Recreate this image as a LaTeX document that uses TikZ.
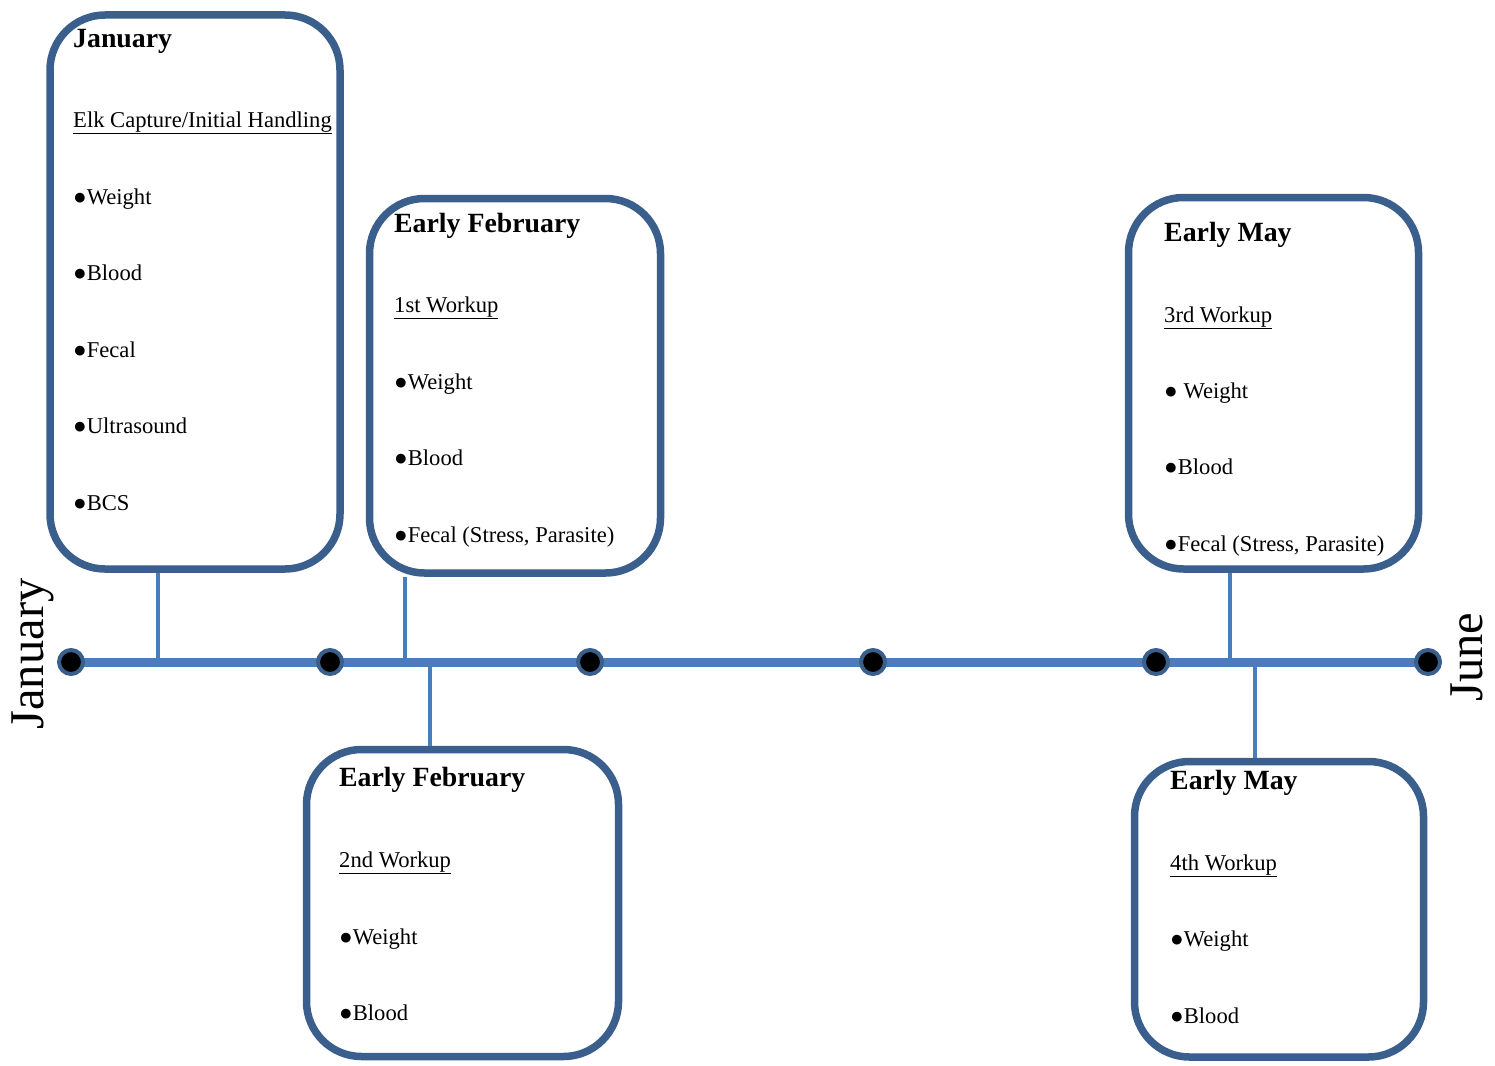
\documentclass[tikz,border=0pt]{standalone}
\usepackage{fontspec}
\setmainfont{Liberation Serif}
\definecolor{boxblue}{HTML}{3A5F8C}
\definecolor{lineblue}{HTML}{4A7EBB}
\begin{document}
\begin{tikzpicture}[x=1pt,y=-1pt,
  box/.style={draw=boxblue, line width=7.5pt, rounded corners=55pt, fill=white},
  txt/.style={anchor=base west, inner sep=0pt, font=\fontsize{22.6}{26}\selectfont},
  ttl/.style={anchor=base west, inner sep=0pt, font=\fontsize{27.8}{32}\selectfont\bfseries},
  month/.style={inner sep=0pt, rotate=90, font=\fontsize{48.5}{52}\selectfont},
  tl/.style={draw=lineblue, line width=9pt},
  conn/.style={draw=lineblue, line width=4.5pt},
  dot/.style={circle, fill=black, draw=boxblue, line width=4pt, minimum size=24pt, inner sep=0pt}]
\useasboundingbox (0,0) rectangle (1495,1065);
% timeline
\coordinate (ts) at (71,662);
\coordinate (te) at (1428,662);
\draw[tl] (ts) -- (te);
% boxes
\draw[box] (50,15) rectangle (340,569);
\path (50,15) coordinate (b1nw) (340,569) coordinate (b1se);
\draw[box] (369.5,198.5) rectangle (660.5,573);
\path (369.5,198.5) coordinate (b2nw) (660.5,573) coordinate (b2se);
\draw[box] (306.5,749.5) rectangle (618.5,1056.5);
\path (306.5,749.5) coordinate (b3nw) (618.5,1056.5) coordinate (b3se);
\draw[box] (1128.5,197.5) rectangle (1418.5,569);
\path (1128.5,197.5) coordinate (b4nw) (1418.5,569) coordinate (b4se);
\draw[box] (1134.5,761.5) rectangle (1423.5,1057);
\path (1134.5,761.5) coordinate (b5nw) (1423.5,1057) coordinate (b5se);
% connectors
\coordinate (c1) at (158,662);
\coordinate (c2) at (405,662);
\coordinate (c3) at (430,662);
\coordinate (c4) at (1230,662);
\coordinate (c5) at (1255,662);
\draw[conn] (b1se -| c1) ++(0,3.5) -- (c1);
\draw[conn] (b2se -| c2) ++(0,3.5) -- (c2);
\draw[conn] (b3nw -| c3) ++(0,-3.5) -- (c3);
\draw[conn] (b4se -| c4) ++(0,3.5) -- (c4);
\draw[conn] (b5nw -| c5) ++(0,-3.5) -- (c5);
% dots
\node[dot] (d1) at (71,662) {};
\node[dot] (d2) at (330,662) {};
\node[dot] (d3) at (590,662) {};
\node[dot] (d4) at (873,662) {};
\node[dot] (d5) at (1156,662) {};
\node[dot] (d6) at (1428,662) {};
% month labels
\node[month] (mjan) at (33,654) {January};
\node[month] (mjun) at (1467,657) {June};
% box 1 text
\node[ttl] (t1a) at (73,48) {January};
\node[txt] (t1b) at (73,127) {\underline{Elk Capture/Initial Handling}};
\node[txt] (t1c) at (73,204) {●Weight};
\node[txt] (t1d) at (73,280) {●Blood};
\node[txt] (t1e) at (73,357) {●Fecal};
\node[txt] (t1f) at (73,433) {●Ultrasound};
\node[txt] (t1g) at (73,510) {●BCS};
% box 2 text
\node[ttl] (t2a) at (394,232) {Early February};
\node[txt] (t2b) at (394,312) {\underline{1st Workup}};
\node[txt] (t2c) at (394,389) {●Weight};
\node[txt] (t2d) at (394,465) {●Blood};
\node[txt] (t2e) at (394,542) {●Fecal (Stress, Parasite)};
% box 3 text
\node[ttl] (t3a) at (339,786) {Early February};
\node[txt] (t3b) at (339,867) {\underline{2nd Workup}};
\node[txt] (t3c) at (339,944) {●Weight};
\node[txt] (t3d) at (339,1020) {●Blood};
% box 4 text
\node[ttl] (t4a) at (1164,241) {Early May};
\node[txt] (t4b) at (1164,322) {\underline{3rd Workup}};
\node[txt] (t4c) at (1164,398) {● Weight};
\node[txt] (t4d) at (1164,474) {●Blood};
\node[txt] (t4e) at (1164,551) {●Fecal (Stress, Parasite)};
% box 5 text
\node[ttl] (t5a) at (1170,789) {Early May};
\node[txt] (t5b) at (1170,870) {\underline{4th Workup}};
\node[txt] (t5c) at (1170,946) {●Weight};
\node[txt] (t5d) at (1170,1023) {●Blood};
\end{tikzpicture}
\end{document}
